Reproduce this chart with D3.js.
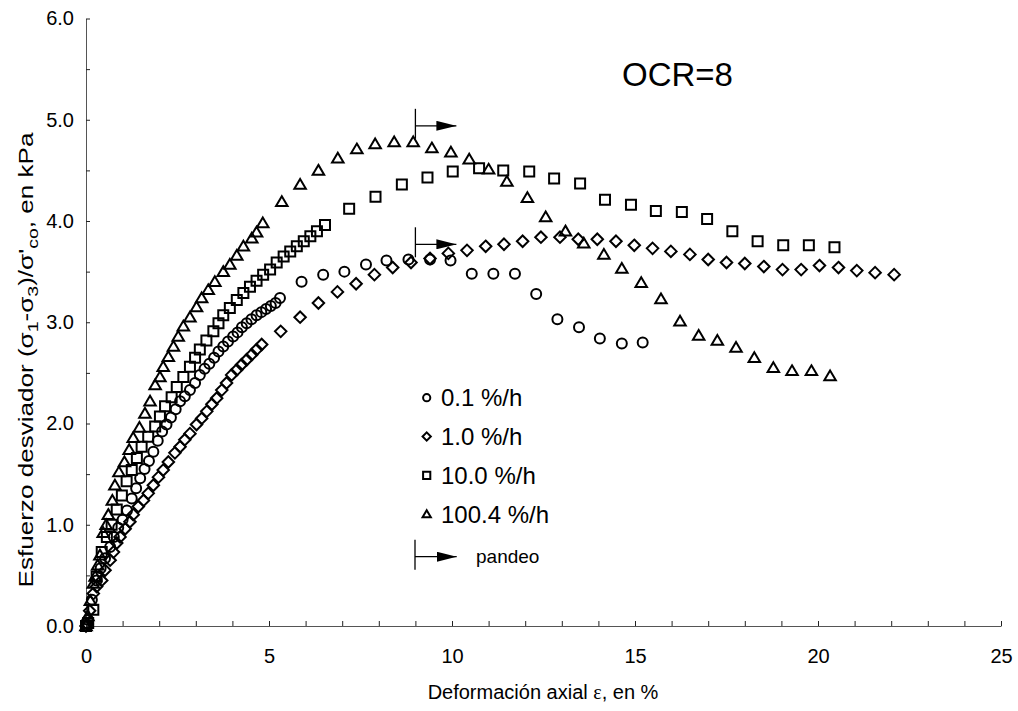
<!DOCTYPE html>
<html>
<head>
<meta charset="utf-8">
<script src="https://cdn.jsdelivr.net/npm/d3@7"></script>
<style>
body{margin:0;background:#fff}
svg{font-family:"Liberation Sans",Arial,sans-serif}
</style>
</head>
<body>
<div id="chart"></div>
<script>
// series: 0.1 %/h (circles)
let circleX=[0,0.06,0.16,0.29,0.40,0.52,0.66,0.76,0.88,1.0,1.12,1.25,1.37,1.48,1.60,1.72,1.84,1.96,2.08,2.20,2.32,2.45,2.57,2.70,2.84,2.98,3.11,3.24,3.37,3.50,3.62,3.75,3.88,4.02,4.14,4.26,4.39,4.52,4.66,4.79,4.92,5.05,5.18,5.30,5.89,6.48,7.06,7.65,8.21,8.81,9.40,9.96,10.54,11.13,11.72,12.30,12.88,13.47,14.04,14.64,15.21]
let circleY=[0,0.06,0.26,0.45,0.57,0.67,0.78,0.88,0.97,1.05,1.14,1.26,1.36,1.46,1.55,1.63,1.72,1.83,1.92,1.99,2.06,2.14,2.22,2.27,2.33,2.40,2.48,2.54,2.59,2.65,2.71,2.76,2.81,2.86,2.90,2.95,2.99,3.03,3.07,3.10,3.13,3.16,3.19,3.24,3.40,3.47,3.50,3.57,3.61,3.62,3.62,3.61,3.48,3.48,3.48,3.28,3.03,2.95,2.84,2.79,2.80]

// series: 1.0 %/h (diamonds)
let diamondX=[0,0.03,0.10,0.20,0.29,0.43,0.52,0.66,0.75,0.84,0.93,1.07,1.20,1.29,1.43,1.57,1.70,1.84,1.98,2.11,2.25,2.43,2.57,2.70,2.84,3.02,3.16,3.30,3.44,3.57,3.71,3.84,3.98,4.12,4.25,4.39,4.53,4.66,4.80,5.32,5.85,6.35,6.87,7.38,7.88,8.38,8.88,9.40,9.90,10.41,10.92,11.42,11.93,12.43,12.95,13.45,13.97,14.48,14.98,15.48,15.98,16.50,17.00,17.50,18.00,18.52,19.03,19.54,20.04,20.56,21.06,21.56,22.08]
let diamondY=[0,0.02,0.15,0.32,0.39,0.45,0.55,0.65,0.73,0.82,0.88,0.96,1.03,1.10,1.18,1.24,1.31,1.39,1.47,1.54,1.62,1.71,1.77,1.84,1.90,1.99,2.05,2.12,2.19,2.25,2.33,2.40,2.48,2.53,2.58,2.63,2.68,2.73,2.78,2.91,3.05,3.19,3.30,3.38,3.47,3.54,3.59,3.63,3.68,3.71,3.75,3.77,3.80,3.84,3.84,3.82,3.82,3.80,3.76,3.73,3.70,3.67,3.62,3.59,3.58,3.55,3.52,3.52,3.56,3.54,3.51,3.49,3.47]

// series: 10.0 %/h (squares)
let squareX=[0,0.06,0.20,0.29,0.43,0.57,0.70,0.84,0.98,1.11,1.25,1.39,1.52,1.70,1.89,2.02,2.16,2.34,2.48,2.66,2.84,2.98,3.11,3.29,3.48,3.62,3.75,3.93,4.12,4.30,4.48,4.66,4.84,5.03,5.21,5.40,5.58,5.76,5.95,6.13,6.31,6.53,7.19,7.91,8.63,9.33,10.02,10.74,11.40,12.11,12.79,13.50,14.18,14.89,15.57,16.28,16.97,17.66,18.35,19.05,19.75,20.45]
let squareY=[0,0.03,0.16,0.49,0.73,0.88,1.00,1.15,1.29,1.43,1.54,1.66,1.77,1.87,1.97,2.07,2.17,2.26,2.36,2.46,2.56,2.65,2.73,2.82,2.91,2.99,3.07,3.14,3.22,3.29,3.35,3.41,3.47,3.52,3.59,3.65,3.70,3.75,3.80,3.85,3.90,3.96,4.12,4.24,4.36,4.43,4.49,4.52,4.50,4.49,4.42,4.37,4.21,4.16,4.10,4.09,4.02,3.90,3.80,3.76,3.76,3.74]

// series: 100.4 %/h (triangles)
let triangleX=[0,0.05,0.12,0.20,0.25,0.32,0.38,0.47,0.55,0.61,0.72,0.79,0.90,1.05,1.18,1.29,1.46,1.61,1.75,1.89,2.02,2.11,2.25,2.39,2.52,2.66,2.84,3.02,3.16,3.34,3.52,3.75,3.93,4.12,4.30,4.53,4.66,4.83,5.35,5.85,6.35,6.88,7.40,7.90,8.42,8.94,9.45,9.97,10.47,11.00,11.50,12.06,12.56,13.10,13.60,14.15,14.64,15.17,15.71,16.23,16.74,17.25,17.76,18.26,18.78,19.29,19.82,20.33]
let triangleY=[0,0.10,0.25,0.42,0.49,0.60,0.70,0.92,1.00,1.10,1.24,1.39,1.52,1.62,1.74,1.86,1.96,2.10,2.22,2.38,2.46,2.56,2.66,2.76,2.86,2.96,3.05,3.15,3.24,3.32,3.40,3.50,3.57,3.66,3.75,3.83,3.89,3.98,4.19,4.36,4.50,4.62,4.71,4.76,4.78,4.78,4.72,4.68,4.61,4.51,4.39,4.23,4.04,3.90,3.78,3.67,3.53,3.39,3.23,3.01,2.87,2.82,2.75,2.65,2.55,2.52,2.52,2.47]

let seriesNames=["0.1 %/h","1.0 %/h","10.0 %/h","100.4 %/h"]
let seriesShapes=["circle","diamond","square","triangle"]

// "pandeo" arrows (buckling start)
let pandeoX=[9.0,9.0]
let pandeoY=[4.94,3.77]

let xTicks=[0,5,10,15,20,25]
let yTicks=[0,1,2,3,4,5,6]

let width=1018
let height=711

const xScale=d3.scaleLinear().domain([0,25]).range([86,1001])
const yScale=d3.scaleLinear().domain([0,6]).range([626,18.5])

const svg=d3.select("#chart").append("svg").attr("width",width).attr("height",height)

//marker shapes drawn by hand so the diamond is a real rotated square
function markerPath(shape,s){
    if(shape=="circle") return `M${-s},0A${s},${s} 0 1,0 ${s},0A${s},${s} 0 1,0 ${-s},0Z`
    if(shape=="square") return `M${-s},${-s}H${s}V${s}H${-s}Z`
    if(shape=="diamond") return `M0,${-s*1.15}L${s*1.15},0L0,${s*1.15}L${-s*1.15},0Z`
    return `M0,${-s*1.1}L${s*1.15},${s*0.85}L${-s*1.15},${s*0.85}Z`
}

// x axis, ticks every 1, labels every 5
const xAxis=d3.axisBottom(xScale).tickValues(d3.range(0,26,1)).tickSizeInner(-5).tickSizeOuter(0).tickPadding(23)
    .tickFormat(d=>xTicks.includes(d)?d:"")
const gx=svg.append("g").attr("transform","translate(0,626)").call(xAxis)
gx.selectAll("text").attr("font-size",20).attr("fill","#000").attr("font-family","Liberation Sans, Arial")
gx.selectAll("line").attr("stroke","#222")
gx.select(".domain").attr("stroke","#555")

// y axis, ticks every 0.5, labels every 1
const yAxis=d3.axisLeft(yScale).tickValues(d3.range(0,6.01,0.5)).tickSizeInner(-4).tickSizeOuter(0).tickPadding(12)
    .tickFormat(d=>yTicks.includes(d)?d3.format(".1f")(d):"")
const gy=svg.append("g").attr("transform","translate(86,0)").call(yAxis)
gy.selectAll("text").attr("font-size",20).attr("fill","#000").attr("font-family","Liberation Sans, Arial")
gy.selectAll("line").attr("stroke","#222")
gy.select(".domain").attr("stroke","#555")

// axis titles
const xTitle=svg.append("text").attr("x",543).attr("y",699).attr("text-anchor","middle").attr("font-size",20)
xTitle.append("tspan").text("Deformación axial ")
xTitle.append("tspan").attr("font-family","Liberation Serif, serif").text("ε")
xTitle.append("tspan").text(", en %")

// the original title is stretched along the axis, so force its length
const yTitle=svg.append("text").attr("transform","translate(33,360) rotate(-90)").attr("text-anchor","middle").attr("font-size",20)
    .attr("textLength",455).attr("lengthAdjust","spacingAndGlyphs")
let titleParts=[["Esfuerzo desviador (σ",0],["1",1],["-σ",0],["3",1],[")/σ'",0],["co",1],[", en kPa",0]]
titleParts.forEach(p=>{
    let t=yTitle.append("tspan").text(p[0])
    if(p[1]) t.attr("font-size",15).attr("dy",5)
    else t.attr("dy",yTitle.selectAll("tspan").size()>1?-5:0)
})

// data points
const seriesX=[circleX,diamondX,squareX,triangleX]
const seriesY=[circleY,diamondY,squareY,triangleY]
seriesShapes.forEach((shape,k)=>{
    let pts=seriesX[k].map((x,i)=>[x,seriesY[k][i]])
    svg.append("g").selectAll("path").data(pts).enter().append("path")
        .attr("d",markerPath(shape,5))
        .attr("transform",d=>`translate(${xScale(d[0])},${yScale(d[1])})`)
        .attr("fill","none").attr("stroke","#000").attr("stroke-width",2)
})

// arrowhead
svg.append("defs").append("marker").attr("id","arrow").attr("viewBox","0 0 20 10").attr("refX",20).attr("refY",5)
    .attr("markerWidth",20).attr("markerHeight",10).attr("markerUnits","userSpaceOnUse").attr("orient","auto")
    .append("path").attr("d","M0,0L20,5L0,10Z").attr("fill","#000")

function pandeoArrow(g,x,y,len){
    g.append("line").attr("x1",x).attr("x2",x).attr("y1",y-17).attr("y2",y+13).attr("stroke","#000").attr("stroke-width",1.3)
    g.append("line").attr("x1",x).attr("x2",x+len).attr("y1",y).attr("y2",y).attr("stroke","#000").attr("stroke-width",1.3).attr("marker-end","url(#arrow)")
}
const arrows=svg.append("g")
pandeoX.forEach((x,i)=>pandeoArrow(arrows,xScale(x),yScale(pandeoY[i]),xScale(x+1.12)-xScale(x)))

// OCR label
svg.append("text").attr("x",622).attr("y",86).attr("font-size",33).text("OCR=8")

// legend
const legend=svg.append("g")
seriesNames.forEach((name,i)=>{
    let y=397.7+i*38.8
    legend.append("path").attr("d",markerPath(seriesShapes[i],3.6)).attr("transform",`translate(426.7,${y})`)
        .attr("fill","none").attr("stroke","#000").attr("stroke-width",2)
    legend.append("text").attr("x",441).attr("y",y+8.5).attr("font-size",24).text(name)
})
pandeoArrow(legend,415,556.7,41.7)
legend.append("text").attr("x",476).attr("y",563).attr("font-size",19).text("pandeo")
</script>
</body>
</html>
